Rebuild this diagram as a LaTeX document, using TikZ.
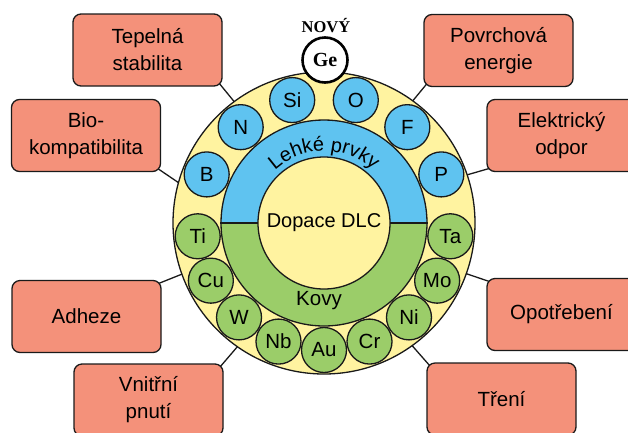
\documentclass[tikz,border=0pt]{standalone}
\usepackage{fontspec}
\setmainfont{Liberation Sans}
\newfontfamily\serifb{Liberation Serif}
\usetikzlibrary{calc,backgrounds,decorations.text}
\definecolor{boxc}{HTML}{F4917A}
\definecolor{myyellow}{HTML}{FFF3A0}
\definecolor{myblue}{HTML}{5FC3F0}
\definecolor{mygreen}{HTML}{9BCD69}
\definecolor{edge}{HTML}{1A1A1A}
\begin{document}
\begin{tikzpicture}[x=1pt,y=-1pt,
  box/.style={draw=edge, line width=1.3pt, fill=boxc, rounded corners=8pt,
    minimum width=149pt, minimum height=72pt, align=center, inner sep=0pt,
    font=\fontsize{20.5}{27}\selectfont},
  elem/.style={circle, draw=edge, line width=1.3pt, minimum size=45pt, inner sep=0pt,
    font=\fontsize{20.5}{24}\selectfont},
  bl/.style={elem, fill=myblue},
  gr/.style={elem, fill=mygreen},
  conn/.style={draw=edge, line width=1.3pt},
  ringline/.style={draw=edge, line width=1.3pt}]
\useasboundingbox (0,0) rectangle (628,432);
\clip (0,0) rectangle (628,432);
\coordinate (c) at (324,223);

% outer disc
\node[circle, ringline, fill=myyellow, minimum size=302pt, inner sep=0pt] (outer) at (c) {};
% blue and green halves
\fill[myblue] ($(c)+(103,0)$) arc[start angle=0, end angle=-180, radius=103] -- cycle;
\fill[mygreen] ($(c)+(103,0)$) arc[start angle=0, end angle=180, radius=103] -- cycle;
\node[circle, ringline, minimum size=206pt, inner sep=0pt] (ring) at (c) {};
\draw[ringline] (ring.west) -- (ring.east);
\node[circle, ringline, fill=myyellow, minimum size=132pt, inner sep=0pt] (inner) at (c) {};
\node[font=\fontsize{20}{24}\selectfont] (dlc) at (c) {Dopace DLC};
\node[font=\fontsize{20.5}{24}\selectfont] (kovy) at (319,301) {Kovy};
\path[decorate, decoration={text along path, text align=center,
  text={|\fontsize{20}{20}\selectfont|Lehké prvky}}]
  ($(c)+(-162:72)$) arc[start angle=-162, end angle=-18, radius=72];

% light elements
\foreach \n/\a in {Si/104.5, O/75.5, N/131, F/49, B/157.5, P/22.5}
  \node[bl] (\n) at ($(c)+(-\a:127)$) {\n};
% metals
\foreach \n/\a in {Ti/186, Cu/207, W/228, Nb/249, Au/270, Cr/291, Ni/312, Mo/333, Ta/354}
  \node[gr] (\n) at ($(c)+(-\a:127)$) {\n};

% new element
\node[circle, draw=black, line width=2.6pt, fill=white, minimum size=45pt, inner sep=0pt,
  font=\serifb\bfseries\fontsize{20}{20}\selectfont] (Ge) at (325,60) {Ge};
\node[font=\serifb\bfseries\fontsize{16.5}{18}\selectfont] (novy) at (326,26) {NOVÝ};

% property boxes
\node[box] (tep) at (147.5,50) {Tepelná\\stabilita};
\node[box] (bio) at (86,135.5) {Bio-\\kompatibilita};
\node[box] (pov) at (498.5,50.5) {Povrchová\\energie};
\node[box] (ele) at (561.5,135.5) {Elektrický\\odpor};
\node[box] (adh) at (86.5,316.5) {Adheze};
\node[box] (vni) at (148.5,400) {Vnitřní\\pnutí};
\node[box] (opo) at (561.5,314.5) {Opotřebení};
\node[box] (tre) at (501.5,399) {Tření};

% connectors
\coordinate (ptep) at ($(c)+(-126.5:151)$);
\coordinate (pbio) at ($(c)+(-164.5:151)$);
\coordinate (ppov) at ($(c)+(-54:151)$);
\coordinate (pele) at ($(c)+(-18.6:151)$);
\coordinate (padh) at ($(c)+(-199.8:151)$);
\coordinate (pvni) at ($(c)+(-235:151)$);
\coordinate (popo) at ($(c)+(-340.4:151)$);
\coordinate (ptre) at ($(c)+(-305.7:151)$);
\begin{pgfonlayer}{background}
\draw[conn] ($(tep.south east)+(-4,-4)$) -- (ptep);
\draw[conn] ($(bio.south east)+(-4,-4)$) -- (pbio);
\draw[conn] ($(pov.south west)+(4,-4)$) -- (ppov);
\draw[conn] ($(ele.south west)+(4,-4)$) -- (pele);
\draw[conn] ($(adh.north east)+(-4,4)$) -- (padh);
\draw[conn] ($(vni.north east)+(-4,4)$) -- (pvni);
\draw[conn] ($(opo.north west)+(4,4)$) -- (popo);
\draw[conn] ($(tre.north west)+(4,4)$) -- (ptre);
\end{pgfonlayer}
\end{tikzpicture}
\end{document}
